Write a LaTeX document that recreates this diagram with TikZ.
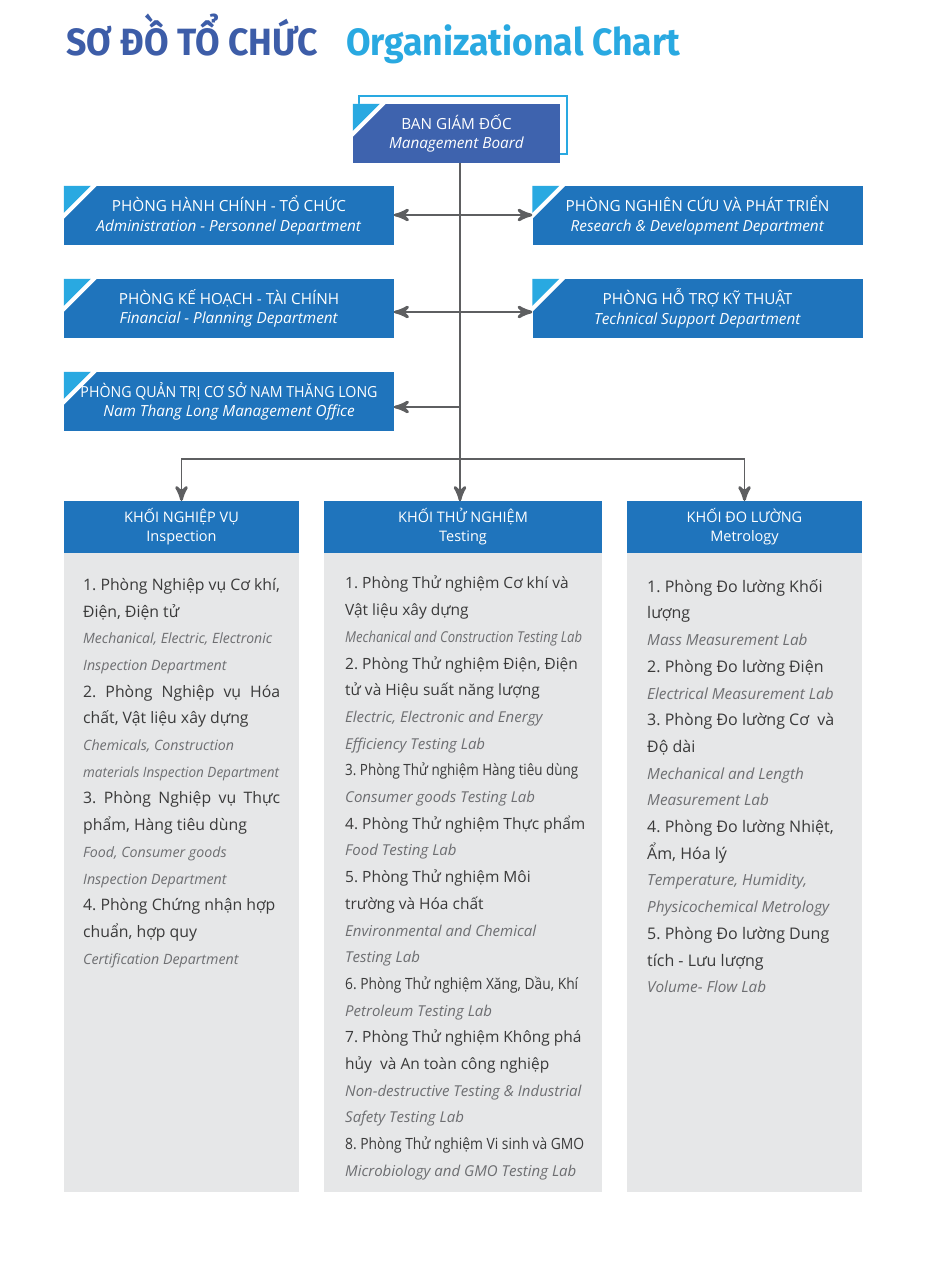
\documentclass[tikz,border=0pt]{standalone}
\usepackage{fontspec}
\usepackage{graphicx}
\usepackage{xcolor}
\setmainfont{Open Sans}
\newfontfamily\titlefont{Fira Sans}
\frenchspacing
\usepackage{tikz}
\usetikzlibrary{arrows}
\usetikzlibrary{decorations.markings}
\usetikzlibrary{positioning}
\definecolor{titleblue}{HTML}{3D5DA8}
\definecolor{skyblue}{HTML}{29A9E1}
\definecolor{boardblue}{HTML}{3E63AE}
\definecolor{deptblue}{HTML}{1F74BC}
\definecolor{panelgray}{HTML}{E6E7E8}
\definecolor{linegray}{HTML}{5E5F61}
\definecolor{textdark}{HTML}{3A3A3A}
\definecolor{textgray}{HTML}{6D6E71}
\tikzset{->/.style = {decoration={markings,
                                  mark=at position 1 with {\arrow[scale=2.1]{stealth'}}},
                      postaction={decorate}}}
\tikzset{link/.style = {draw = linegray, line width = 1.4}}
\tikzset{dept/.style = {fill = deptblue, text = white, minimum width = 330, minimum height = 59,
                        inner sep = 0, align = center, font = \fontsize{15.3}{19.5}\selectfont}}
\tikzset{head/.style = {fill = deptblue, text = white, minimum height = 52,
                        inner sep = 0, align = center, font = \fontsize{14.5}{19}\selectfont}}
\tikzset{panel/.style = {fill = panelgray, minimum height = 639, inner sep = 0, anchor = north}}
\tikzset{list/.style = {anchor = north west, inner sep = 0, align = left,
                        font = \fontsize{15.5}{26.7}\selectfont\color{textdark}}}
\newcommand{\en}[2][15]{{\fontsize{#1}{26.7}\selectfont\itshape\color{textgray}#2}}
\newcommand{\spread}[1]{\makebox[197pt][s]{#1}}
\newcommand{\fitto}[2]{\resizebox{#1}{\height}{#2}}
\newcommand{\notch}[1]{\fill[white] (#1.north west) -- ++(33,0) -- ++(-33,33) -- cycle;
  \fill[skyblue] (#1.north west) -- ++(27,0) -- ++(-27,27) -- cycle;}

\begin{document}
\begin{tikzpicture}[x = 1pt, y = -1pt]
  \useasboundingbox (0, 0) rectangle (929, 1264);
  \fill[white] (0, 0) rectangle (929, 1264);

  \node[anchor = base west, inner sep = 0] (title) at (66, 55)
    {\fitto{252pt}{\titlefont\bfseries\fontsize{38}{40}\selectfont\color{titleblue}SƠ ĐỒ TỔ CHỨC}};
  \node[anchor = base west, inner sep = 0] (subtitle) at (346, 55)
    {\fitto{334pt}{\titlefont\bfseries\fontsize{38}{40}\selectfont\color{skyblue}Organizational Chart}};

  \draw[skyblue, line width = 1.5] (359, 96) rectangle (567, 154);
  \node[dept, fill = boardblue, minimum width = 207] (board) at (456.5, 133.5)
    {BAN GIÁM ĐỐC\\\textit{Management Board}};
  \notch{board}

  \node[dept] (admin) at (229, 215.5) {PHÒNG HÀNH CHÍNH - TỔ CHỨC\\\textit{Administration - Personnel Department}};
  \node[dept] (finance) at (229, 308.5) {PHÒNG KẾ HOẠCH - TÀI CHÍNH\\\textit{Financial - Planning Department}};
  \node[dept] (office) at (229, 401.5) {\fitto{297pt}{PHÒNG QUẢN TRỊ CƠ SỞ NAM THĂNG LONG}\\\textit{Nam Thang Long Management Office}};
  \node[dept] (research) at (697.5, 215.5) {PHÒNG NGHIÊN CỨU VÀ PHÁT TRIỂN\\\textit{Research \& Development Department}};
  \node[dept] (support) at (697.5, 308.5) {PHÒNG HỖ TRỢ KỸ THUẬT\\\textit{Technical Support Department}};
  \foreach \unit in {admin, finance, office, research, support} {\notch{\unit}}

  \node[head, minimum width = 235] (insp) at (181.5, 527) {KHỐI NGHIỆP VỤ\\Inspection};
  \node[head, minimum width = 278] (test) at (463, 527) {KHỐI THỬ NGHIỆM\\Testing};
  \node[head, minimum width = 235] (metro) at (744.5, 527) {KHỐI ĐO LƯỜNG\\Metrology};
  \node[panel, minimum width = 235, below = 0 of insp] (insp panel) {};
  \node[panel, minimum width = 278, below = 0 of test] (test panel) {};
  \node[panel, minimum width = 235, below = 0 of metro] (metro panel) {};

  \coordinate (trunk) at (460, 163);
  \coordinate (t1) at (460, 215);
  \coordinate (t2) at (460, 312);
  \coordinate (t3) at (460, 407);
  \coordinate (bus) at (460, 459);
  \draw[link] (trunk) -- (bus);
  \draw[link, ->] (t1) -- (t1 -| admin.east);
  \draw[link, ->] (t1) -- (t1 -| research.west);
  \draw[link, ->] (t2) -- (t2 -| finance.east);
  \draw[link, ->] (t2) -- (t2 -| support.west);
  \draw[link, ->] (t3) -- (t3 -| office.east);
  \draw[link, ->] (bus) -| (insp.north);
  \draw[link, ->] (bus) -- (bus |- test.north);
  \draw[link, ->] (bus) -| (metro.north);

  \node[list, font = \fontsize{15.8}{26.7}\selectfont\color{textdark}] (insp text) at (83, 578) {1. Phòng Nghiệp vụ Cơ khí,\\
    Điện, Điện tử\\
    \en[14.2]{\fitto{189pt}{Mechanical, Electric, Electronic}}\\
    \en[14.2]{Inspection Department}\\
    \spread{2. Phòng Nghiệp vụ Hóa}\\
    chất, Vật liệu xây dựng\\
    \en[14.2]{Chemicals, Construction}\\
    \en[14.2]{\fitto{196pt}{materials Inspection Department}}\\
    \spread{3. Phòng Nghiệp vụ Thực}\\
    phẩm, Hàng tiêu dùng\\
    \en[14.2]{Food, Consumer goods}\\
    \en[14.2]{Inspection Department}\\
    4. Phòng Chứng nhận hợp\\
    chuẩn, hợp quy\\
    \en[14.2]{Certification Department}};

  \node[list] (test text) at (345, 576) {1. Phòng Thử nghiệm Cơ khí và\\
    Vật liệu xây dựng\\
    \en{\fitto{237pt}{Mechanical and Construction Testing Lab}}\\
    2. Phòng Thử nghiệm Điện, Điện\\
    tử và Hiệu suất năng lượng\\
    \en{Electric, Electronic and Energy}\\
    \en{Efficiency Testing Lab}\\
    \fitto{233pt}{3. Phòng Thử nghiệm Hàng tiêu dùng}\\
    \en{Consumer goods Testing Lab}\\
    4. Phòng Thử nghiệm Thực phẩm\\
    \en{Food Testing Lab}\\
    5. Phòng Thử nghiệm Môi\\
    trường và Hóa chất\\
    \en{Environmental and Chemical}\\
    \en{Testing Lab}\\
    \fitto{233pt}{6. Phòng Thử nghiệm Xăng, Dầu, Khí}\\
    \en{Petroleum Testing Lab}\\
    7. Phòng Thử nghiệm Không phá\\
    hủy\ \ và An toàn công nghiệp\\
    \en{Non-destructive Testing \& Industrial}\\
    \en{Safety Testing Lab}\\
    \fitto{239pt}{8. Phòng Thử nghiệm Vi sinh và GMO}\\
    \en{Microbiology and GMO Testing Lab}};

  \node[list, font = \fontsize{16}{26.7}\selectfont\color{textdark}] (metro text) at (647, 579) {1. Phòng Đo lường Khối\\
    lượng\\
    \en[15.3]{Mass Measurement Lab}\\
    2. Phòng Đo lường Điện\\
    \en[15.3]{Electrical Measurement Lab}\\
    3. Phòng Đo lường Cơ\ \ và\\
    Độ dài\\
    \en[15.3]{Mechanical and Length}\\
    \en[15.3]{Measurement Lab}\\
    4. Phòng Đo lường Nhiệt,\\
    Ẩm, Hóa lý\\
    \en[15.3]{Temperature, Humidity,}\\
    \en[15.3]{Physicochemical Metrology}\\
    5. Phòng Đo lường Dung\\
    tích - Lưu lượng\\
    \en[15.3]{Volume- Flow Lab}};
\end{tikzpicture}
\end{document}
